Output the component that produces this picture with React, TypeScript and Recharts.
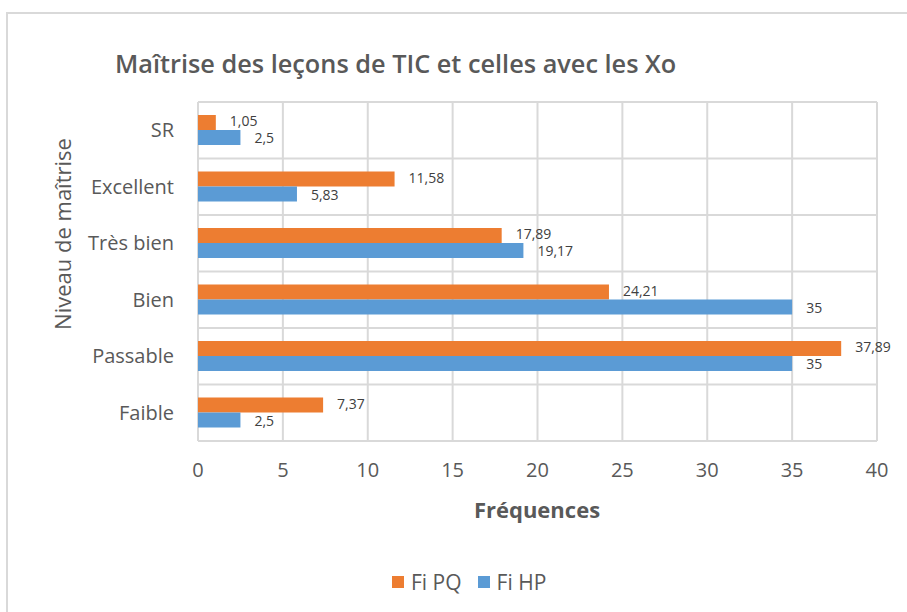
import { BarChart, Bar, XAxis, YAxis, CartesianGrid, LabelList, Label } from 'recharts';

const niveaux = ['SR', 'Excellent', 'Très bien', 'Bien', 'Passable', 'Faible'];
const fiPQ = [1.05, 11.58, 17.89, 24.21, 37.89, 7.37];
const fiHP = [2.5, 5.83, 19.17, 35, 35, 2.5];
const xTicks = [0, 5, 10, 15, 20, 25, 30, 35, 40];

const data = niveaux.map((n, i) => ({ niveau: n, pq: fiPQ[i], hp: fiHP[i] }));

const ORANGE = '#ED7D31';
const BLUE = '#5B9BD5';
const GRID = '#d9d9d9';
const TXT = '#595959';
const FONT = '"Open Sans", "Noto Sans", sans-serif';

const fmt = (v: any) => String(v).replace('.', ',');

// lines between categories, not through their centres
const bandLines = ({ offset }: any) => {
    const out: number[] = [];
    for (let i = 0; i <= niveaux.length; i++) {
        out.push(offset.top + (offset.height * i) / niveaux.length);
    }
    return out;
};

export default function App() {
    return (
        <div style={{ position: 'absolute', left: 0, top: 0, width: 907, height: 612, overflow: 'hidden', background: '#fff', fontFamily: FONT }}>
            <div style={{ position: 'absolute', left: 6, top: 12, width: 1000, height: 700, border: '2px solid ' + GRID }} />
            <div style={{ position: 'absolute', left: 115, top: 46, fontSize: 25.3, lineHeight: '34px', fontWeight: 600, color: TXT, whiteSpace: 'nowrap' }}>
                Maîtrise des leçons de TIC et celles avec les Xo
            </div>
            <div style={{ position: 'absolute', left: 0, top: 0 }}>
                <BarChart
                    width={907}
                    height={612}
                    data={data}
                    layout="vertical"
                    margin={{ top: 102, right: 30, left: 0, bottom: 91 }}
                    barGap={0}
                >
                    <CartesianGrid stroke={GRID} strokeWidth={2} horizontalCoordinatesGenerator={bandLines} />
                    <XAxis
                        type="number"
                        domain={[0, 40]}
                        ticks={xTicks}
                        axisLine={false}
                        tickLine={false}
                        tickSize={0}
                        tickMargin={22}
                        height={80}
                        tick={{ fill: TXT, fontSize: 20, fontFamily: FONT }}
                    >
                        <Label
                            content={() => (
                                <text x={537} y={518} textAnchor="middle" fill={TXT} fontSize={22} fontWeight={700} fontFamily={FONT}>
                                    Fréquences
                                </text>
                            )}
                        />
                    </XAxis>
                    <YAxis
                        type="category"
                        dataKey="niveau"
                        width={198}
                        axisLine={false}
                        tickLine={false}
                        tickSize={0}
                        tickMargin={24}
                        tick={{ fill: TXT, fontSize: 20, fontFamily: FONT }}
                    >
                        <Label
                            content={() => (
                                <text x={62} y={234} transform="rotate(-90 62 234)" textAnchor="middle" dominantBaseline="central" fill={TXT} fontSize={22} fontFamily={FONT}>
                                    Niveau de maîtrise
                                </text>
                            )}
                        />
                    </YAxis>
                    <Bar dataKey="pq" name="Fi PQ" fill={ORANGE} barSize={15} isAnimationActive={false}>
                        <LabelList dataKey="pq" position="right" offset={14} dy={-1} formatter={fmt} fill="#404040" fontSize={14} fontFamily={FONT} />
                    </Bar>
                    <Bar dataKey="hp" name="Fi HP" fill={BLUE} barSize={15} isAnimationActive={false}>
                        <LabelList dataKey="hp" position="right" offset={14} dy={1} formatter={fmt} fill="#404040" fontSize={14} fontFamily={FONT} />
                    </Bar>
                </BarChart>
            </div>
            <div style={{ position: 'absolute', left: 392, top: 568, display: 'flex', alignItems: 'center', fontSize: 21, color: TXT, whiteSpace: 'nowrap' }}>
                <span style={{ width: 12, height: 12, background: ORANGE, display: 'inline-block', marginRight: 7 }} />
                <span style={{ marginRight: 16 }}>Fi PQ</span>
                <span style={{ width: 12, height: 12, background: BLUE, display: 'inline-block', marginRight: 7 }} />
                <span>Fi HP</span>
            </div>
        </div>
    );
}
